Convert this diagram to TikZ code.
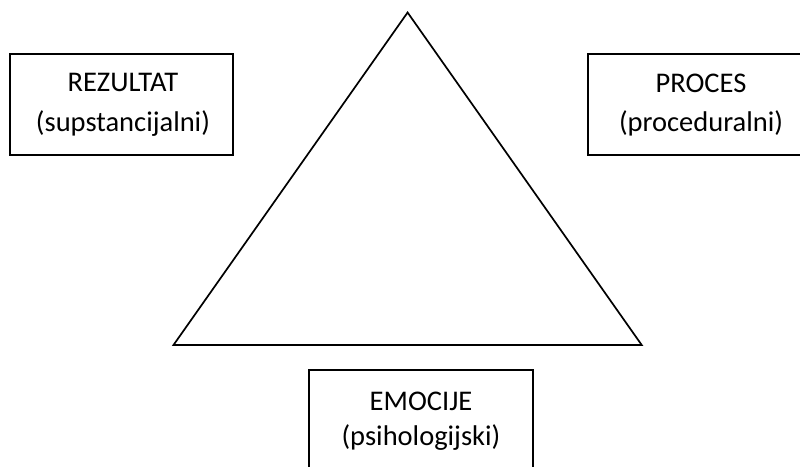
\documentclass[tikz,border=0pt]{standalone}
\usepackage{fontspec}
\setmainfont{Carlito}
\begin{document}
\begin{tikzpicture}[x=1pt,y=1pt,
  box/.style={draw=black,line width=1.7pt,rectangle,inner sep=0pt},
  lbl/.style={anchor=base,inner sep=0pt,font=\fontsize{28.5}{34}\selectfont}]
\useasboundingbox (0,0) rectangle (800,466);
% triangle
\coordinate (A) at (407.6,453.5);
\coordinate (B) at (173.5,121);
\coordinate (C) at (641.7,121);
\draw[line width=1.7pt,line join=miter] (A) -- (B) -- (C) -- cycle;
% boxes
\node[box,minimum width=223pt,minimum height=101pt] (rez) at (121.5,361.5) {};
\node[box,minimum width=226pt,minimum height=101pt] (pro) at (701,361.5) {};
\node[box,minimum width=224pt,minimum height=101pt] (emo) at (421,45.5) {};
% labels
\node[lbl] (rez1) at (123,374) {REZULTAT};
\node[lbl] (rez2) at (123,334.5) {(supstancijalni)};
\node[lbl] (pro1) at (701,373.5) {PROCES};
\node[lbl] (pro2) at (701,334.5) {(proceduralni)};
\node[lbl] (emo1) at (421,56) {EMOCIJE};
\node[lbl] (emo2) at (421,21) {(psihologijski)};
\end{tikzpicture}
\end{document}
